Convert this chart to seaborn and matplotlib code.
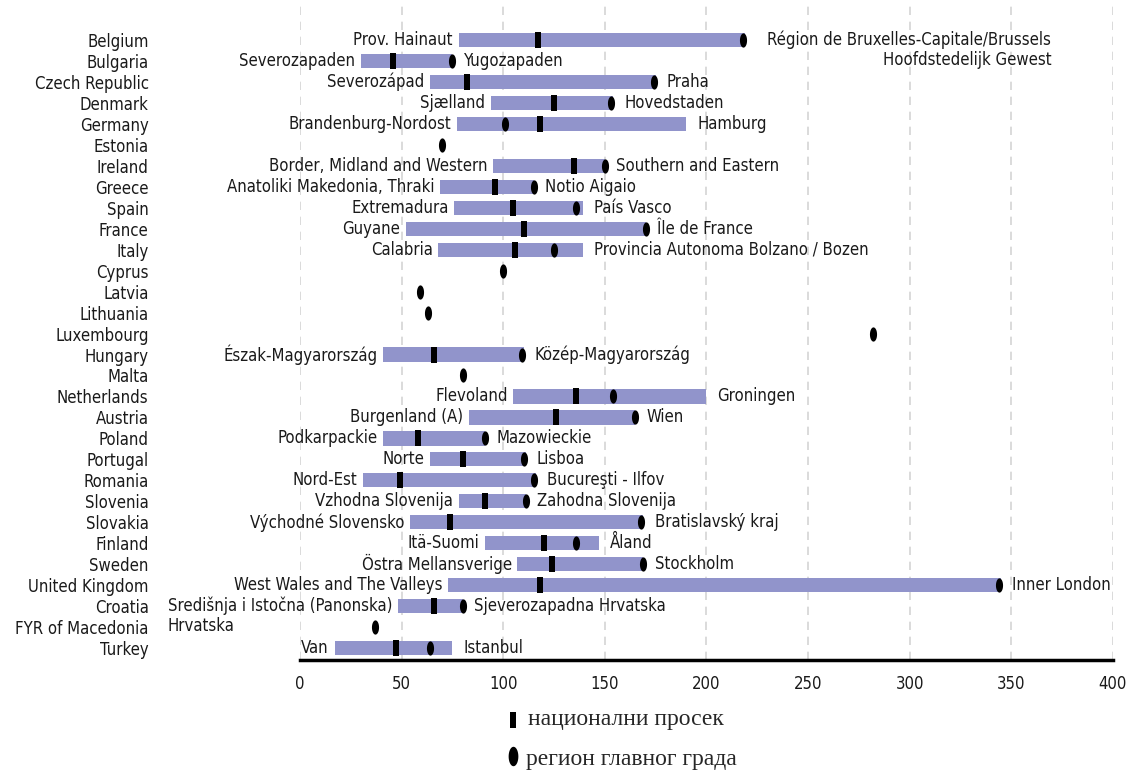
import numpy as np
import pandas as pd
import matplotlib
matplotlib.use("Agg")
import matplotlib.pyplot as plt
from matplotlib.lines import Line2D
import seaborn as sns

countries = ["Belgium", "Bulgaria", "Czech Republic", "Denmark", "Germany", "Estonia",
             "Ireland", "Greece", "Spain", "France", "Italy", "Cyprus", "Latvia",
             "Lithuania", "Luxembourg", "Hungary", "Malta", "Netherlands", "Austria",
             "Poland", "Portugal", "Romania", "Slovenia", "Slovakia", "Finland",
             "Sweden", "United Kingdom", "Croatia", "FYR of Macedonia", "Turkey"]

nan = np.nan
region_min = [78, 30, 64, 94, 77, nan, 95, 69, 76, 52, 68, nan, nan, nan, nan, 41, nan, 105,
              83, 41, 64, 31, 78, 54, 91, 107, 73, 48, nan, 17]
region_max = [219, 75, 175, 154, 190, nan, 150, 115, 139, 170, 139, nan, nan, nan, nan, 110, nan,
              200, 165, 91, 111, 116, 111, 169, 147, 169, 345, 80, nan, 75]
national = [117, 46, 82, 125, 118, nan, 135, 96, 105, 110, 106, nan, nan, nan, nan, 66, nan,
            136, 126, 58, 80, 49, 91, 74, 120, 124, 118, 66, nan, 47]
capital = [218, 75, 174, 153, 101, 70, 150, 115, 136, 170, 125, 100, 59, 63, 282, 109, 80,
           154, 165, 91, 110, 115, 111, 168, 136, 169, 344, 80, 37, 64]

low_labels = ["Prov. Hainaut", "Severozapaden", "Severozápad", "Sjælland", "Brandenburg-Nordost",
              "", "Border, Midland and Western", "Anatoliki Makedonia, Thraki", "Extremadura",
              "Guyane", "Calabria", "", "", "", "", "Észak-Magyarország", "", "Flevoland",
              "Burgenland (A)", "Podkarpackie", "Norte", "Nord-Est", "Vzhodna Slovenija",
              "Východné Slovensko", "Itä-Suomi", "Östra Mellansverige",
              "West Wales and The Valleys", "Središnja i Istočna (Panonska)\nHrvatska", "", "Van"]
high_labels = ["Région de Bruxelles-Capitale/Brussels\nHoofdstedelijk Gewest", "Yugozapaden",
               "Praha", "Hovedstaden", "Hamburg", "", "Southern and Eastern", "Notio Aigaio",
               "País Vasco", "Île de France", "Provincia Autonoma Bolzano / Bozen", "", "", "",
               "", "Közép-Magyarország", "", "Groningen", "Wien", "Mazowieckie", "Lisboa",
               "Bucureşti - Ilfov", "Zahodna Slovenija", "Bratislavský kraj", "Åland",
               "Stockholm", "Inner London", "Sjeverozapadna Hrvatska", "", "Istanbul"]

legend_labels = ["национални просек", "регион главног града"]

df = pd.DataFrame({"country": countries, "low": region_min, "high": region_max,
                   "national": national, "capital": capital})
df["span"] = (df["high"] - df["low"]).fillna(0)
df["start"] = df["low"].fillna(df["capital"])

sns.set_style("white")

fig = plt.figure(figsize=(11.35, 7.76), dpi=100)
ax = fig.add_axes([300 / 1135, 116 / 776, 813 / 1135, 660 / 776])

bar_color = "#9194cb"
sns.barplot(data=df, x="span", y="country", order=countries, orient="y",
            left=df["start"], color=bar_color, width=0.68, errorbar=None,
            linewidth=0, saturation=1, ax=ax, zorder=2)

# marker shapes: thin upright block for the national mean, tall oval for the capital
rect = [(-1, -3), (1, -3), (1, 3), (-1, 3)]
t = np.linspace(0, 2 * np.pi, 40)
oval = list(zip(np.cos(t), 2 * np.sin(t)))
sns.scatterplot(data=df, x="national", y="country", marker=rect, s=125, color="black",
                linewidth=0, ax=ax, zorder=3)
sns.scatterplot(data=df, x="capital", y="country", marker=oval, s=105, color="black",
                linewidth=0, ax=ax, zorder=4)

txt = dict(family="DejaVu Sans", stretch="condensed", fontsize=12, color="#1a1a1a")
for i, row in df.iterrows():
    lo, hi = low_labels[i], high_labels[i]
    if lo:
        dy = -7 if "\n" in lo else 0
        ax.annotate(lo, (row["start"], row["country"]), xytext=(-4, dy),
                    textcoords="offset points", ha="right", va="center",
                    multialignment="left", **txt)
    if hi:
        dy = -7 if "\n" in hi else 0
        dx = 16 if i == 0 else 8
        ax.annotate(hi, (row["start"] + row["span"], row["country"]), xytext=(dx, dy),
                    textcoords="offset points", ha="left", va="center",
                    multialignment="right", **txt)

ax.set_xlim(0, 400)
ax.set_ylim(29.57, -1.91)
ax.set_xticks(range(0, 401, 50))
ax.xaxis.grid(True, linestyle=(0, (5, 4)), color="#d4d4d4", linewidth=1.2)
ax.set_axisbelow(True)
for s in ["top", "right", "left"]:
    ax.spines[s].set_visible(False)
ax.spines["bottom"].set_linewidth(2.5)
ax.spines["bottom"].set_color("black")
ax.tick_params(axis="x", direction="out", length=6, width=2, color="black",
               labelsize=12, pad=5, labelcolor="#1a1a1a")
ax.tick_params(axis="y", length=0, pad=109, labelsize=12, labelcolor="#1a1a1a")
for lab in ax.get_yticklabels() + ax.get_xticklabels():
    lab.set_fontstretch("condensed")
ax.set_xlabel("")
ax.set_ylabel("")

# legend below the axis
fig.add_artist(Line2D([513 / 1135], [1 - 720 / 776], marker=rect, markersize=12,
                      color="black", linewidth=0, markeredgewidth=0))
fig.add_artist(Line2D([513 / 1135], [1 - 756 / 776], marker=oval, markersize=14,
                      color="black", linewidth=0, markeredgewidth=0))
fig.text(528 / 1135, 1 - 720 / 776, legend_labels[0], family="Liberation Serif",
         fontsize=17, va="center", ha="left")
fig.text(526 / 1135, 1 - 760 / 776, legend_labels[1], family="Liberation Serif",
         fontsize=17, va="center", ha="left")

fig.savefig("out.png", dpi=100)
